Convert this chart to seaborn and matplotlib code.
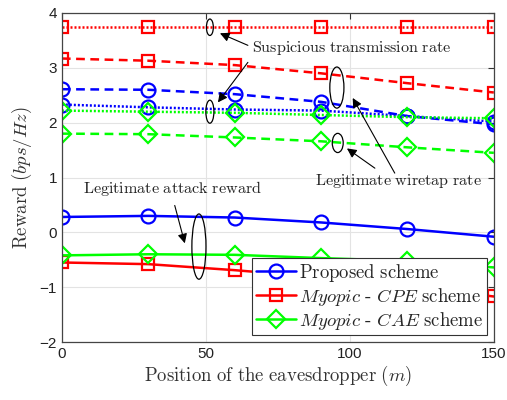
import numpy as np
import pandas as pd
import matplotlib
matplotlib.use('Agg')
import matplotlib.pyplot as plt
from matplotlib.patches import Ellipse
import seaborn as sns

sns.set_style('white')
plt.rcParams['font.family'] = ['Liberation Sans', 'DejaVu Sans']
plt.rcParams['mathtext.fontset'] = 'cm'

# Eavesdropper positions (m)
position = [0, 30, 60, 90, 120, 150]

# Legitimate attack reward (solid)
reward_proposed = [0.28, 0.30, 0.27, 0.18, 0.06, -0.08]
reward_cpe = [-0.55, -0.58, -0.69, -0.82, -0.98, -1.17]
reward_cae = [-0.42, -0.40, -0.41, -0.47, -0.52, -0.64]

# Legitimate wiretap rate (dashed)
wiretap_proposed = [2.61, 2.60, 2.52, 2.38, 2.12, 1.97]
wiretap_cpe = [3.17, 3.13, 3.05, 2.90, 2.72, 2.55]
wiretap_cae = [1.80, 1.79, 1.73, 1.66, 1.55, 1.45]

# Suspicious transmission rate (dotted)
susp_proposed = [2.33, 2.28, 2.24, 2.22, 2.12, 2.02]
susp_cpe = [3.74, 3.74, 3.74, 3.74, 3.74, 3.74]
susp_cae = [2.22, 2.20, 2.18, 2.14, 2.10, 2.08]

labels = [r'$\mathrm{Proposed\ scheme}$',
          r'$Myopic\ \text{-}\ CPE\ \mathrm{scheme}$',
          r'$Myopic\ \text{-}\ CAE\ \mathrm{scheme}$']

BLUE, RED, GREEN = (0, 0, 1), (1, 0, 0), (0, 1, 0)

fig = plt.figure(figsize=(5.07, 4.0), dpi=100)
ax = fig.add_axes([0.122, 0.145, 0.852, 0.8225])

series = [
    (reward_proposed, BLUE, 'o', '-', labels[0]),
    (reward_cpe, RED, 's', '-', labels[1]),
    (reward_cae, GREEN, 'D', '-', labels[2]),
    (wiretap_proposed, BLUE, 'o', (0, (3.5, 2.2)), None),
    (wiretap_cpe, RED, 's', (0, (3.5, 2.2)), None),
    (wiretap_cae, GREEN, 'D', (0, (3.5, 2.2)), None),
    (susp_proposed, BLUE, 'o', (0, (0.8, 0.8)), None),
    (susp_cpe, RED, 's', (0, (0.8, 0.8)), None),
    (susp_cae, GREEN, 'D', (0, (0.8, 0.8)), None),
]
msize = {'o': 10, 's': 9, 'D': 9}
handles = []
for vals, col, mk, ls, lab in series:
    sns.lineplot(x=position, y=vals, ax=ax, color=col, linestyle=ls, lw=1.8,
                 marker=mk, markersize=msize[mk], markerfacecolor='none',
                 markeredgecolor=col, markeredgewidth=1.6)
    if lab is not None:
        handles.append((ax.lines[-1], lab))

ax.set_xlim(0, 150)
ax.set_ylim(-2, 4)
ax.set_xticks([0, 50, 100, 150])
ax.set_yticks([-2, -1, 0, 1, 2, 3, 4])
ax.tick_params(direction='in', labelsize=11, length=4, color='#333333',
               top=True, right=True, labelcolor='#222222')
ax.grid(True, color='#e3e3e3', lw=0.8)
for s in ax.spines.values():
    s.set_color('#444444')
    s.set_linewidth(0.9)

ax.set_xlabel(r'$\mathrm{Position\ of\ the\ eavesdropper}\ (m)$', fontsize=13.5,
              color='#333333', labelpad=2)
ax.set_ylabel(r'$\mathrm{Reward}\ (bps/Hz)$', fontsize=13.5, color='#333333',
              labelpad=4)

leg = ax.legend([h for h, _ in handles], [l for _, l in handles],
                loc='lower right', bbox_to_anchor=(0.985, 0.02),
                fontsize=13.5, frameon=True, fancybox=False, framealpha=1,
                edgecolor='#333333', handlelength=2.1, handletextpad=0.2,
                borderpad=0.2, labelspacing=0.1, borderaxespad=0.0)
leg.get_frame().set_linewidth(0.8)

# ellipses marking groups of curves
ell = [(51.4, 3.74, 2.4, 0.30), (51.4, 2.20, 2.8, 0.42),
       (95.5, 2.64, 4.9, 0.75), (95.8, 1.63, 3.8, 0.35),
       (47.6, -0.26, 4.9, 1.19)]
for cx, cy, w, h in ell:
    ax.add_patch(Ellipse((cx, cy), w, h, fill=False, ec='black', lw=0.9, zorder=5))

txt_kw = dict(fontsize=11.6, color='#222222')
ax.text(66.0, 3.36, r'$\mathrm{Suspicious\ transmission\ rate}$', va='center', **txt_kw)
ax.text(87.8, 0.93, r'$\mathrm{Legitimate\ wiretap\ rate}$', va='center', **txt_kw)
ax.text(7.4, 0.80, r'$\mathrm{Legitimate\ attack\ reward}$', va='center', **txt_kw)

arrows = [((64.6, 3.41), (54.9, 3.63)), ((64.6, 3.10), (54.2, 2.37)),
          ((108.7, 1.17), (99.0, 1.53)), ((115.6, 1.08), (101.0, 2.45)),
          ((39.2, 0.49), (42.7, -0.20))]
for tail, head in arrows:
    ax.annotate('', xy=head, xytext=tail,
                arrowprops=dict(arrowstyle='-|>', color='black', lw=0.8,
                                mutation_scale=14, shrinkA=0, shrinkB=0),
                zorder=6)

fig.savefig('out.png', dpi=100)
